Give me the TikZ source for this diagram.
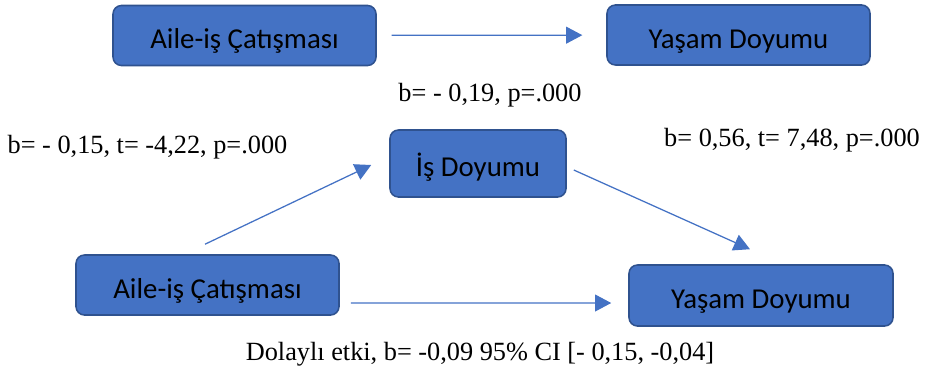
\documentclass[tikz,border=0pt]{standalone}
\usepackage{fontspec}
\setmainfont{Liberation Serif}
\newfontfamily\kutufont{Carlito}
\usepackage{tikz}
\usetikzlibrary{arrows.meta,calc}
\definecolor{kutumavi}{HTML}{4472C4}
\definecolor{kenarmavi}{HTML}{2F528F}

\begin{document}
\begin{tikzpicture}[x=0.025cm,y=-0.025cm,
    kutu/.style={draw=kenarmavi,line width=1.1pt,fill=kutumavi,rounded corners=6pt,
        minimum width=263*0.025cm,minimum height=60*0.025cm,inner sep=0pt,
        text height=22pt,text depth=3.2pt,
        font=\kutufont\fontsize{20.5}{24}\selectfont},
    ok/.style={draw=kutumavi,line width=0.9pt,-{Triangle[length=11.5pt,width=12pt]}},
    etiket/.style={inner sep=0pt,font=\fontsize{18.7}{22}\selectfont}]
    \useasboundingbox (0,0) rectangle (925,374);
    % ust satir: dogrudan etki
    \node[kutu] (ac1) at (244.5,35.5) {Aile-iş Çatışması};
    \node[kutu] (yd1) at (738.5,35) {Yaşam Doyumu};
    \draw[ok,shorten <=10.5pt,shorten >=17pt] (ac1) -- (yd1);
    \node[etiket] (c1) at (490,95) {b= - 0,19, p=.000};

    % alt kisim: aracilik modeli
    \node[kutu,minimum width=176*0.025cm,minimum height=67*0.025cm] (isd) at (478,163.5) {İş Doyumu};
    \node[kutu] (ac2) at (207.5,285) {Aile-iş Çatışması};
    \node[kutu,minimum width=264*0.025cm,minimum height=61*0.025cm] (yd2) at (761,295.5) {Yaşam Doyumu};

    \draw[ok] ($(ac2.north)+(-2.5,-10)$) -- ($(isd.west)+(-18,1.5)$); %a yolu
    \draw[ok] ($(isd.east)+(7,6.5)$) -- ($(yd2.north)+(-11,-15)$); %b yolu
    \draw[ok] ($(ac2.east)+(11,18)$) -- ($(yd2.west)+(-17,7.5)$); %c' yolu

    \node[etiket] (a) at (147.5,147) {b= - 0,15, t= -4,22, p=.000};
    \node[etiket] (b) at (792,140) {b= 0,56, t= 7,48, p=.000};
    \node[etiket] (ind) at (480,354) {Dolaylı etki, b= -0,09 95\% CI [- 0,15, -0,04]};
\end{tikzpicture}
\end{document}
